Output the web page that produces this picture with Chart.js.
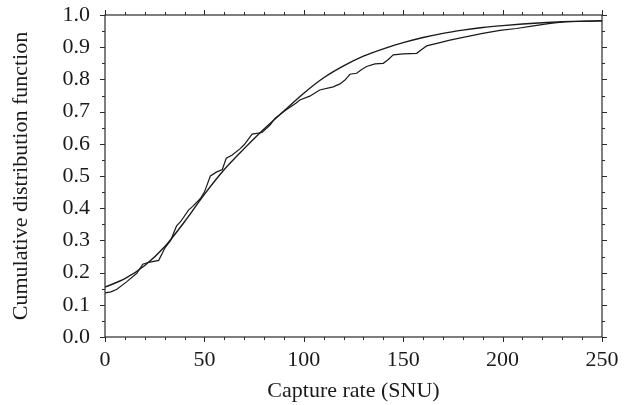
<!DOCTYPE html>
<html>
<head>
<meta charset="utf-8">
<script src="https://cdn.jsdelivr.net/npm/chart.js@4"></script>
<style>
  html, body { margin: 0; padding: 0; background: #fff; }
  #wrap { width: 628px; height: 405px; }
</style>
</head>
<body>
<div id="wrap"><canvas id="cdfChart"></canvas></div>
<script>
// smooth model CDF, read every 10 SNU
const modelX = [0, 10, 20, 30, 40, 50, 60, 70, 80, 90, 100, 110, 120, 130, 140, 150, 160, 170, 180, 190, 200, 210, 220, 230, 240, 250];
const modelY = [0.155, 0.181, 0.222, 0.280, 0.358, 0.443, 0.520, 0.585, 0.646, 0.702, 0.757, 0.805, 0.842, 0.872, 0.895, 0.914, 0.930, 0.943, 0.953, 0.961, 0.967, 0.972, 0.976, 0.979, 0.981, 0.982];

// empirical (jagged) CDF
const empX = [0, 3, 6, 11, 16, 19, 22, 27, 30, 33, 36, 38, 42, 44, 48, 50, 53, 56, 59, 61, 64, 68, 70, 74, 79, 83, 85.5, 91, 96, 98, 103, 108, 114.8, 118.2, 120.7, 123.2, 126.6, 129.1, 131.6, 135.8, 140, 142.5, 145, 150, 156.8, 159.3, 161.8, 168.5, 173.5, 182, 190, 198.7, 207, 215.5, 224, 232, 246, 250];
const empY = [0.137, 0.140, 0.148, 0.172, 0.198, 0.226, 0.232, 0.238, 0.275, 0.300, 0.345, 0.358, 0.394, 0.405, 0.430, 0.450, 0.500, 0.512, 0.520, 0.555, 0.565, 0.585, 0.597, 0.630, 0.635, 0.658, 0.679, 0.705, 0.726, 0.736, 0.748, 0.767, 0.777, 0.786, 0.798, 0.816, 0.819, 0.831, 0.840, 0.848, 0.850, 0.862, 0.876, 0.879, 0.881, 0.893, 0.904, 0.914, 0.922, 0.933, 0.943, 0.952, 0.958, 0.966, 0.974, 0.979, 0.981, 0.982];

const xMin = 0, xMax = 250, xMajor = 50, xMinor = 10;
const yMin = 0, yMax = 1, yMajor = 0.1, yMinor = 0.05;

const serif = "'Liberation Serif', 'Times New Roman', serif";
const ink = '#1a1a1a';

// box round the plot with small outward ticks on all four sides
const frameTicks = {
  id: 'frameTicks',
  afterDatasetsDraw(chart) {
    const { ctx, chartArea: a, scales: { x, y } } = chart;
    ctx.save();
    ctx.strokeStyle = '#2a2a2a';
    ctx.lineWidth = 1.2;
    ctx.strokeRect(a.left, a.top, a.right - a.left, a.bottom - a.top);
    ctx.lineWidth = 1;
    ctx.beginPath();
    const nx = Math.round((xMax - xMin) / xMinor);
    for (let i = 0; i <= nx; i++) {
      const v = xMin + i * xMinor;
      const px = Math.round(x.getPixelForValue(v)) + 0.5;
      const len = (v % xMajor === 0) ? 5 : 3;
      ctx.moveTo(px, a.bottom); ctx.lineTo(px, a.bottom + len);
      ctx.moveTo(px, a.top); ctx.lineTo(px, a.top - len);
    }
    const ny = Math.round((yMax - yMin) / yMinor);
    for (let i = 0; i <= ny; i++) {
      const v = yMin + i * yMinor;
      const py = Math.round(y.getPixelForValue(v)) + 0.5;
      const len = (i % 2 === 0) ? 5 : 3;
      ctx.moveTo(a.left, py); ctx.lineTo(a.left - len, py);
      ctx.moveTo(a.right, py); ctx.lineTo(a.right + len, py);
    }
    ctx.stroke();
    ctx.restore();
  }
};

const ctx = document.getElementById('cdfChart').getContext('2d');
new Chart(ctx, {
  type: 'line',
  data: {
    datasets: [
      {
        label: 'Model',
        data: modelX.map((v, i) => ({ x: v, y: modelY[i] })),
        borderColor: ink,
        borderWidth: 1.4,
        pointRadius: 0,
        cubicInterpolationMode: 'monotone',
        fill: false
      },
      {
        label: 'Measured',
        data: empX.map((v, i) => ({ x: v, y: empY[i] })),
        borderColor: ink,
        borderWidth: 1.2,
        pointRadius: 0,
        tension: 0,
        fill: false
      }
    ]
  },
  options: {
    responsive: true,
    maintainAspectRatio: false,
    animation: false,
    layout: { padding: { top: 15, right: 26, left: 0, bottom: 0 } },
    plugins: {
      legend: { display: false },
      tooltip: { enabled: false }
    },
    scales: {
      x: {
        type: 'linear',
        min: xMin,
        max: xMax,
        grid: { display: false, drawTicks: false },
        border: { display: false },
        ticks: {
          stepSize: xMajor,
          padding: 10,
          color: ink,
          font: { family: serif, size: 22 }
        },
        title: {
          display: true,
          text: 'Capture rate (SNU)',
          color: ink,
          font: { family: serif, size: 22 },
          padding: { top: 0, bottom: 1 }
        },
        afterFit(s) { s.height = 68; s.paddingLeft = 0; s.paddingRight = 0; }
      },
      y: {
        min: yMin,
        max: yMax,
        grid: { display: false, drawTicks: false },
        border: { display: false },
        ticks: {
          stepSize: yMajor,
          padding: 15,
          color: ink,
          font: { family: serif, size: 22 },
          callback: v => Number(v).toFixed(1)
        },
        title: {
          display: true,
          text: 'Cumulative distribution function',
          color: ink,
          font: { family: serif, size: 22 },
          padding: { top: 8, bottom: 0 }
        },
        afterFit(s) { s.width = 105; s.paddingTop = 0; s.paddingBottom = 0; }
      }
    }
  },
  plugins: [frameTicks]
});
</script>
</body>
</html>
